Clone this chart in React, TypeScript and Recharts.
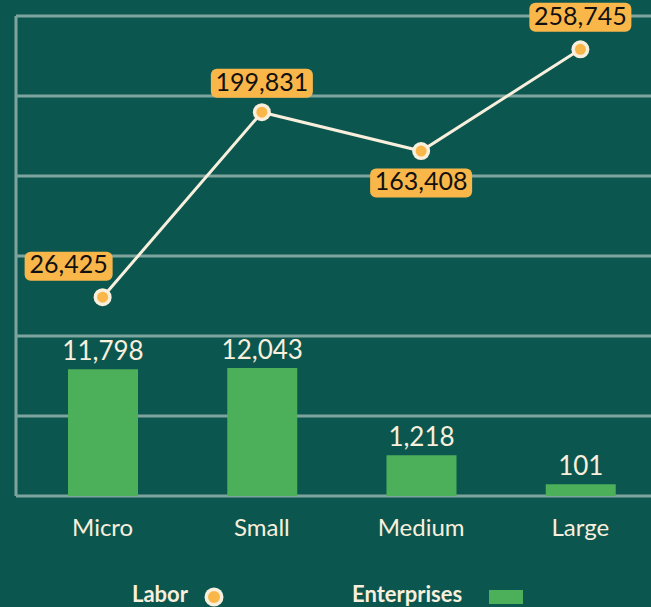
import {
    ComposedChart,
    Bar,
    Line,
    XAxis,
    YAxis,
    CartesianGrid,
    LabelList,
} from "recharts";

const categories = ["Micro", "Small", "Medium", "Large"];
const enterprises = [11798, 12043, 1218, 101];
const labor = [26425, 199831, 163408, 258745];

const laborTicks = [-160000, -85000, -10000, 65000, 140000, 215000, 290000];

const BG = "#0c5650";
const GRID = "#7fa39d";
const CREAM = "#f8efdc";
const ORANGE = "#f9b74a";
const GREEN = "#4caf5a";
const FONT = "Lato, 'Open Sans', sans-serif";

const data = categories.map((name, i) => ({
    name,
    enterprises: enterprises[i],
    labor: labor[i],
}));

// where each labor badge sits relative to its point
const badgeShift = [
    { dx: -34, dy: -31 },
    { dx: 0, dy: -29 },
    { dx: 0, dy: 32 },
    { dx: 0, dy: -32 },
];

const fmt = (v: number) => v.toLocaleString("en-US");

function LaborBadge(props: any) {
    const { x, y, value, index } = props;
    const text = fmt(value);
    const digits = text.replace(/,/g, "").length;
    const w = digits * 14 + 6 + 12;
    const h = 29;
    const s = badgeShift[index] || { dx: 0, dy: -30 };
    const cx = x + s.dx;
    const cy = y + s.dy;
    return (
        <g>
            <rect x={cx - w / 2} y={cy - h / 2} width={w} height={h} rx={6} fill={ORANGE} />
            <text
                x={cx}
                y={cy + 1}
                textAnchor="middle"
                dominantBaseline="middle"
                fill="#111"
                fontSize={25}
                fontFamily={FONT}
            >
                {text}
            </text>
        </g>
    );
}

function LaborDot(props: any) {
    const { cx, cy, index } = props;
    return (
        <g key={index}>
            <circle cx={cx} cy={cy} r={9} fill={CREAM} />
            <circle cx={cx} cy={cy} r={5.5} fill={ORANGE} />
        </g>
    );
}

export default function App() {
    return (
        <div
            style={{
                position: "absolute",
                left: 0,
                top: 0,
                width: 651,
                height: 607,
                overflow: "hidden",
                background: BG,
                fontFamily: FONT,
            }}
        >
            <ComposedChart
                width={660}
                height={560}
                data={data}
                margin={{ top: 16, right: 0, bottom: 24, left: 15 }}
            >
                <CartesianGrid
                    yAxisId="labor"
                    vertical={false}
                    stroke={GRID}
                    strokeWidth={3}
                />
                <XAxis
                    dataKey="name"
                    axisLine={false}
                    tickLine={false}
                    height={40}
                    tickMargin={17}
                    padding={{ left: 7, right: 0 }}
                    tick={{ fill: CREAM, fontSize: 24, fontFamily: FONT }}
                />
                <YAxis
                    yAxisId="ent"
                    width={1}
                    scale="sqrt"
                    domain={[0, 169350]}
                    tick={false}
                    tickLine={false}
                    axisLine={{ stroke: GRID, strokeWidth: 3 }}
                />
                <YAxis
                    yAxisId="labor"
                    orientation="right"
                    width={0}
                    type="number"
                    domain={[-160000, 290000]}
                    ticks={laborTicks}
                    hide
                />
                <Bar
                    yAxisId="ent"
                    dataKey="enterprises"
                    fill={GREEN}
                    barSize={70}
                    isAnimationActive={false}
                >
                    <LabelList
                        dataKey="enterprises"
                        position="top"
                        offset={9}
                        formatter={(v: any) => fmt(Number(v))}
                        fill={CREAM}
                        fontSize={26}
                        fontFamily={FONT}
                    />
                </Bar>
                <Line
                    yAxisId="labor"
                    dataKey="labor"
                    stroke={CREAM}
                    strokeWidth={3}
                    dot={LaborDot}
                    activeDot={false}
                    isAnimationActive={false}
                >
                    <LabelList dataKey="labor" content={LaborBadge} />
                </Line>
            </ComposedChart>
            <div
                style={{
                    position: "absolute",
                    top: 580,
                    left: 0,
                    width: 651,
                    height: 25,
                    color: CREAM,
                    fontWeight: 700,
                    fontSize: 22,
                    lineHeight: "25px",
                }}
            >
                <span style={{ position: "absolute", left: 132, top: 1 }}>Labor</span>
                <svg style={{ position: "absolute", left: 204, top: 7 }} width={20} height={20}>
                    <circle cx={10} cy={10} r={9.5} fill={CREAM} />
                    <circle cx={10} cy={10} r={6} fill={ORANGE} />
                </svg>
                <span style={{ position: "absolute", left: 352, top: 1 }}>Enterprises</span>
                <svg style={{ position: "absolute", left: 489, top: 10 }} width={34} height={14}>
                    <rect x={0} y={0} width={34} height={14} fill={GREEN} />
                </svg>
            </div>
        </div>
    );
}
